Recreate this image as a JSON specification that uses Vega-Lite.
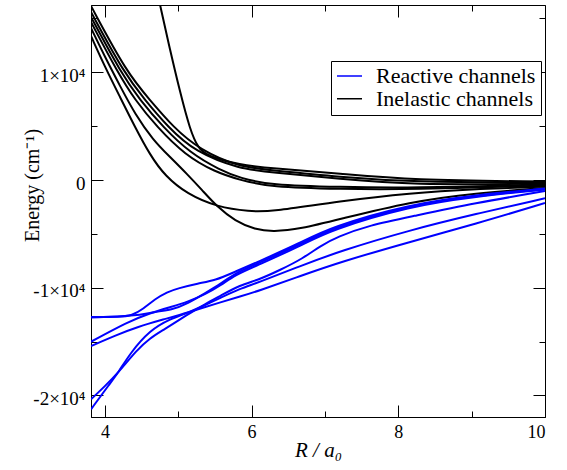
{
  "$schema": "https://vega.github.io/schema/vega-lite/v6.json",
  "width": 454,
  "height": 412,
  "autosize": {"type": "none"},
  "padding": {"left": 91, "top": 5, "right": 22, "bottom": 53},
  "background": "white",
  "config": {"view": {"stroke": "black", "strokeWidth": 1}, "font": "Liberation Serif"},
  "datasets": {
    "curves": [
      {"c":"K1","t":"Inelastic channels","R":4.710,"E":17642},{"c":"K1","t":"Inelastic channels","R":4.751,"E":16249},{"c":"K1","t":"Inelastic channels","R":4.888,"E":12071},{"c":"K1","t":"Inelastic channels","R":5.024,"E":8171},{"c":"K1","t":"Inelastic channels","R":5.161,"E":4643},{"c":"K1","t":"Inelastic channels","R":5.270,"E":2971},{"c":"K1","t":"Inelastic channels","R":5.393,"E":2228},{"c":"K1","t":"Inelastic channels","R":5.843,"E":1393},{"c":"K1","t":"Inelastic channels","R":6.252,"E":1114},{"c":"K1","t":"Inelastic channels","R":7.207,"E":604},{"c":"K1","t":"Inelastic channels","R":8.162,"E":0},{"c":"K1","t":"Inelastic channels","R":10.0,"E":-139},
      {"c":"C1","t":"Inelastic channels","R":3.810,"E":16156},{"c":"C1","t":"Inelastic channels","R":4.301,"E":9935},{"c":"C1","t":"Inelastic channels","R":4.615,"E":7428},{"c":"C1","t":"Inelastic channels","R":4.929,"E":4921},{"c":"C1","t":"Inelastic channels","R":5.297,"E":2786},{"c":"C1","t":"Inelastic channels","R":5.843,"E":1207},{"c":"C1","t":"Inelastic channels","R":6.252,"E":929},{"c":"C1","t":"Inelastic channels","R":7.207,"E":279},{"c":"C1","t":"Inelastic channels","R":8.162,"E":-186},{"c":"C1","t":"Inelastic channels","R":10.0,"E":-232},
      {"c":"C2","t":"Inelastic channels","R":3.810,"E":15599},{"c":"C2","t":"Inelastic channels","R":4.260,"E":9935},{"c":"C2","t":"Inelastic channels","R":4.547,"E":7428},{"c":"C2","t":"Inelastic channels","R":4.860,"E":4921},{"c":"C2","t":"Inelastic channels","R":5.229,"E":2600},{"c":"C2","t":"Inelastic channels","R":5.843,"E":1021},{"c":"C2","t":"Inelastic channels","R":6.252,"E":743},{"c":"C2","t":"Inelastic channels","R":7.207,"E":93},{"c":"C2","t":"Inelastic channels","R":8.162,"E":-464},{"c":"C2","t":"Inelastic channels","R":10.0,"E":-325},
      {"c":"C3","t":"Inelastic channels","R":3.810,"E":15135},{"c":"C3","t":"Inelastic channels","R":4.219,"E":9935},{"c":"C3","t":"Inelastic channels","R":4.479,"E":7428},{"c":"C3","t":"Inelastic channels","R":4.792,"E":4921},{"c":"C3","t":"Inelastic channels","R":5.161,"E":2507},{"c":"C3","t":"Inelastic channels","R":5.570,"E":929},{"c":"C3","t":"Inelastic channels","R":5.843,"E":186},{"c":"C3","t":"Inelastic channels","R":6.252,"E":-464},{"c":"C3","t":"Inelastic channels","R":7.207,"E":-650},{"c":"C3","t":"Inelastic channels","R":8.162,"E":-743},{"c":"C3","t":"Inelastic channels","R":10.0,"E":-418},
      {"c":"C4","t":"Inelastic channels","R":3.810,"E":14670},{"c":"C4","t":"Inelastic channels","R":4.178,"E":9935},{"c":"C4","t":"Inelastic channels","R":4.410,"E":7428},{"c":"C4","t":"Inelastic channels","R":4.710,"E":4921},{"c":"C4","t":"Inelastic channels","R":5.092,"E":2321},{"c":"C4","t":"Inelastic channels","R":5.502,"E":743},{"c":"C4","t":"Inelastic channels","R":5.843,"E":0},{"c":"C4","t":"Inelastic channels","R":6.252,"E":-650},{"c":"C4","t":"Inelastic channels","R":7.207,"E":-836},{"c":"C4","t":"Inelastic channels","R":8.162,"E":-882},{"c":"C4","t":"Inelastic channels","R":10.0,"E":-511},
      {"c":"K5","t":"Inelastic channels","R":3.810,"E":13370},{"c":"K5","t":"Inelastic channels","R":4.001,"E":10492},{"c":"K5","t":"Inelastic channels","R":4.206,"E":7707},{"c":"K5","t":"Inelastic channels","R":4.410,"E":4921},{"c":"K5","t":"Inelastic channels","R":4.615,"E":2321},{"c":"K5","t":"Inelastic channels","R":4.820,"E":371},{"c":"K5","t":"Inelastic channels","R":5.120,"E":-1300},{"c":"K5","t":"Inelastic channels","R":5.529,"E":-2507},{"c":"K5","t":"Inelastic channels","R":5.979,"E":-2925},{"c":"K5","t":"Inelastic channels","R":6.252,"E":-2943},{"c":"K5","t":"Inelastic channels","R":7.207,"E":-1950},{"c":"K5","t":"Inelastic channels","R":8.162,"E":-1207},{"c":"K5","t":"Inelastic channels","R":9.049,"E":-836},{"c":"K5","t":"Inelastic channels","R":10.0,"E":-604},
      {"c":"K6","t":"Inelastic channels","R":3.810,"E":14113},{"c":"K6","t":"Inelastic channels","R":4.001,"E":11421},{"c":"K6","t":"Inelastic channels","R":4.206,"E":8728},{"c":"K6","t":"Inelastic channels","R":4.410,"E":6128},{"c":"K6","t":"Inelastic channels","R":4.656,"E":3714},{"c":"K6","t":"Inelastic channels","R":4.888,"E":2136},{"c":"K6","t":"Inelastic channels","R":5.120,"E":557},{"c":"K6","t":"Inelastic channels","R":5.324,"E":-929},{"c":"K6","t":"Inelastic channels","R":5.529,"E":-2479},{"c":"K6","t":"Inelastic channels","R":5.775,"E":-3807},{"c":"K6","t":"Inelastic channels","R":6.047,"E":-4596},{"c":"K6","t":"Inelastic channels","R":6.293,"E":-4800},{"c":"K6","t":"Inelastic channels","R":6.661,"E":-4550},{"c":"K6","t":"Inelastic channels","R":7.207,"E":-3621},{"c":"K6","t":"Inelastic channels","R":8.162,"E":-2015},{"c":"K6","t":"Inelastic channels","R":9.049,"E":-1207},{"c":"K6","t":"Inelastic channels","R":10.0,"E":-743},
      {"c":"B1","t":"Reactive channels","R":3.810,"E":-12720},{"c":"B1","t":"Reactive channels","R":4.206,"E":-12720},{"c":"B1","t":"Reactive channels","R":4.369,"E":-12581},{"c":"B1","t":"Reactive channels","R":4.519,"E":-11978},{"c":"B1","t":"Reactive channels","R":4.683,"E":-11049},{"c":"B1","t":"Reactive channels","R":4.847,"E":-10399},{"c":"B1","t":"Reactive channels","R":4.997,"E":-10056},{"c":"B1","t":"Reactive channels","R":5.270,"E":-9591},{"c":"B1","t":"Reactive channels","R":5.502,"E":-9331},{"c":"B1","t":"Reactive channels","R":5.775,"E":-8514},{"c":"B1","t":"Reactive channels","R":6.088,"E":-7586},{"c":"B1","t":"Reactive channels","R":6.661,"E":-5850},{"c":"B1","t":"Reactive channels","R":7.071,"E":-4364},{"c":"B1","t":"Reactive channels","R":8.162,"E":-2228},{"c":"B1","t":"Reactive channels","R":9.049,"E":-1393},{"c":"B1","t":"Reactive channels","R":10.0,"E":-789},
      {"c":"B2","t":"Reactive channels","R":3.810,"E":-12767},{"c":"B2","t":"Reactive channels","R":4.406,"E":-12628},{"c":"B2","t":"Reactive channels","R":4.679,"E":-12228},{"c":"B2","t":"Reactive channels","R":4.906,"E":-12071},{"c":"B2","t":"Reactive channels","R":5.133,"E":-11448},{"c":"B2","t":"Reactive channels","R":5.361,"E":-10520},{"c":"B2","t":"Reactive channels","R":5.588,"E":-9591},{"c":"B2","t":"Reactive channels","R":5.770,"E":-8663},{"c":"B2","t":"Reactive channels","R":6.088,"E":-7734},{"c":"B2","t":"Reactive channels","R":6.661,"E":-5989},{"c":"B2","t":"Reactive channels","R":7.071,"E":-4503},{"c":"B2","t":"Reactive channels","R":8.162,"E":-2321},{"c":"B2","t":"Reactive channels","R":9.049,"E":-1486},{"c":"B2","t":"Reactive channels","R":10.0,"E":-836},
      {"c":"B3","t":"Reactive channels","R":3.810,"E":-15014},{"c":"B3","t":"Reactive channels","R":4.315,"E":-13157},{"c":"B3","t":"Reactive channels","R":4.615,"E":-12349},{"c":"B3","t":"Reactive channels","R":4.906,"E":-11764},{"c":"B3","t":"Reactive channels","R":5.133,"E":-11300},{"c":"B3","t":"Reactive channels","R":5.361,"E":-10631},{"c":"B3","t":"Reactive channels","R":5.588,"E":-9749},{"c":"B3","t":"Reactive channels","R":5.770,"E":-8821},{"c":"B3","t":"Reactive channels","R":6.088,"E":-7892},{"c":"B3","t":"Reactive channels","R":6.661,"E":-6128},{"c":"B3","t":"Reactive channels","R":7.071,"E":-4643},{"c":"B3","t":"Reactive channels","R":8.162,"E":-2414},{"c":"B3","t":"Reactive channels","R":9.049,"E":-1532},{"c":"B3","t":"Reactive channels","R":10.0,"E":-882},
      {"c":"B4","t":"Reactive channels","R":3.810,"E":-15413},{"c":"B4","t":"Reactive channels","R":4.137,"E":-14438},{"c":"B4","t":"Reactive channels","R":4.451,"E":-13621},{"c":"B4","t":"Reactive channels","R":4.792,"E":-12953},{"c":"B4","t":"Reactive channels","R":5.133,"E":-12303},{"c":"B4","t":"Reactive channels","R":5.584,"E":-11328},{"c":"B4","t":"Reactive channels","R":5.843,"E":-10817},{"c":"B4","t":"Reactive channels","R":6.088,"E":-10306},{"c":"B4","t":"Reactive channels","R":6.661,"E":-8914},{"c":"B4","t":"Reactive channels","R":7.207,"E":-7614},{"c":"B4","t":"Reactive channels","R":8.162,"E":-5729},{"c":"B4","t":"Reactive channels","R":9.049,"E":-4085},{"c":"B4","t":"Reactive channels","R":10.0,"E":-2136},
      {"c":"B5","t":"Reactive channels","R":3.810,"E":-20362},{"c":"B5","t":"Reactive channels","R":4.001,"E":-19127},{"c":"B5","t":"Reactive channels","R":4.178,"E":-17920},{"c":"B5","t":"Reactive channels","R":4.433,"E":-15785},{"c":"B5","t":"Reactive channels","R":4.615,"E":-14670},{"c":"B5","t":"Reactive channels","R":4.796,"E":-13928},{"c":"B5","t":"Reactive channels","R":5.116,"E":-12535},{"c":"B5","t":"Reactive channels","R":5.365,"E":-11513},{"c":"B5","t":"Reactive channels","R":5.570,"E":-10771},{"c":"B5","t":"Reactive channels","R":5.843,"E":-9749},{"c":"B5","t":"Reactive channels","R":6.088,"E":-9285},{"c":"B5","t":"Reactive channels","R":6.388,"E":-8357},{"c":"B5","t":"Reactive channels","R":6.702,"E":-7270},{"c":"B5","t":"Reactive channels","R":6.934,"E":-6128},{"c":"B5","t":"Reactive channels","R":7.166,"E":-5265},{"c":"B5","t":"Reactive channels","R":7.616,"E":-4178},{"c":"B5","t":"Reactive channels","R":8.162,"E":-3408},{"c":"B5","t":"Reactive channels","R":9.049,"E":-2136},{"c":"B5","t":"Reactive channels","R":10.0,"E":-1021},
      {"c":"B6","t":"Reactive channels","R":3.810,"E":-21291},{"c":"B6","t":"Reactive channels","R":4.069,"E":-18876},{"c":"B6","t":"Reactive channels","R":4.178,"E":-17920},{"c":"B6","t":"Reactive channels","R":4.342,"E":-16091},{"c":"B6","t":"Reactive channels","R":4.615,"E":-13928},{"c":"B6","t":"Reactive channels","R":4.888,"E":-12906},{"c":"B6","t":"Reactive channels","R":5.116,"E":-12377},{"c":"B6","t":"Reactive channels","R":5.365,"E":-11606},{"c":"B6","t":"Reactive channels","R":5.570,"E":-10956},{"c":"B6","t":"Reactive channels","R":5.843,"E":-10074},{"c":"B6","t":"Reactive channels","R":6.088,"E":-9536},{"c":"B6","t":"Reactive channels","R":6.661,"E":-7985},{"c":"B6","t":"Reactive channels","R":7.207,"E":-6592},{"c":"B6","t":"Reactive channels","R":8.162,"E":-4643},{"c":"B6","t":"Reactive channels","R":9.049,"E":-3157},{"c":"B6","t":"Reactive channels","R":10.0,"E":-1699}
    ]
  },
  "data": {"name": "curves"},
  "layer": [
    {
      "mark": {"type": "line", "interpolate": "basis", "strokeWidth": 2, "clip": true},
      "encoding": {
        "x": {
          "field": "R", "type": "quantitative",
          "scale": {"domain": [3.81, 10], "nice": false, "zero": false},
          "axis": {
            "orient": "bottom", "values": [4, 5, 6, 7, 8, 9, 10], "grid": false,
            "tickSize": {"condition": {"test": "datum.value % 2 == 0", "value": -12}, "value": -6},
            "tickColor": "black", "tickWidth": 1, "domainColor": "black", "domainWidth": 1,
            "labelExpr": "datum.value % 2 == 0 ? format(datum.value, 'd') : ''",
            "labelFont": "Liberation Serif", "labelFontSize": 18, "labelColor": "black", "labelPadding": 18,
            "title": "R / a₀", "titleFont": "Liberation Serif", "titleFontSize": 21, "titleFontStyle": "italic",
            "titleFontWeight": "normal", "titleColor": "black", "titleY": 39, "titleBaseline": "alphabetic"
          }
        },
        "y": {
          "field": "E", "type": "quantitative",
          "scale": {"domain": [-22000, 16250], "nice": false, "zero": false},
          "axis": {
            "orient": "left", "values": [-20000, -15000, -10000, -5000, 0, 5000, 10000, 15000], "grid": false,
            "tickSize": {"condition": {"test": "datum.value % 10000 == 0", "value": -12}, "value": -6},
            "tickColor": "black", "tickWidth": 1, "domainColor": "black", "domainWidth": 1,
            "labelExpr": "datum.value == 10000 ? '1×10⁴' : datum.value == 0 ? '0' : datum.value == -10000 ? '-1×10⁴' : datum.value == -20000 ? '-2×10⁴' : ''",
            "labelFont": "Liberation Serif", "labelFontSize": 19, "labelColor": "black", "labelPadding": 18, "labelOffset": 3,
            "title": "Energy (cm⁻¹)", "titleFont": "Liberation Serif", "titleFontSize": 20,
            "titleFontWeight": "normal", "titleColor": "black", "titleX": -53, "titleY": 180,
            "titleAlign": "center", "titleBaseline": "alphabetic", "titleAngle": -90
          }
        },
        "color": {
          "field": "t", "type": "nominal",
          "scale": {"domain": ["Reactive channels", "Inelastic channels"], "range": ["#0000ff", "#000000"]},
          "legend": {
            "orient": "none", "legendX": 240, "legendY": 56, "title": null,
            "symbolType": "stroke", "symbolSize": 625, "symbolStrokeWidth": 1.5, "clipHeight": 20,
            "labelFont": "Liberation Serif", "labelFontSize": 22, "labelColor": "black", "labelOffset": 13, "labelLimit": 400,
            "rowPadding": 0.7, "padding": 5, "strokeColor": "black", "fillColor": "white"
          }
        },
        "detail": {"field": "c", "type": "nominal"}
      }
    },
    {
      "mark": {"type": "line", "opacity": 0},
      "encoding": {
        "x": {
          "field": "R", "type": "quantitative",
          "scale": {"domain": [3.81, 10], "nice": false, "zero": false},
          "axis": {
            "orient": "top", "values": [4, 5, 6, 7, 8, 9, 10], "grid": false, "labels": false, "title": null,
            "domain": false,
            "tickSize": {"condition": {"test": "datum.value % 2 == 0", "value": -12}, "value": -6},
            "tickColor": "black", "tickWidth": 1
          }
        },
        "y": {
          "field": "E", "type": "quantitative",
          "scale": {"domain": [-22000, 16250], "nice": false, "zero": false},
          "axis": {
            "orient": "right", "values": [-20000, -15000, -10000, -5000, 0, 5000, 10000, 15000], "grid": false,
            "labels": false, "title": null, "domain": false,
            "tickSize": {"condition": {"test": "datum.value % 10000 == 0", "value": -12}, "value": -6},
            "tickColor": "black", "tickWidth": 1
          }
        },
        "detail": {"field": "c", "type": "nominal"}
      }
    }
  ],
  "resolve": {"axis": {"x": "independent", "y": "independent"}}
}
